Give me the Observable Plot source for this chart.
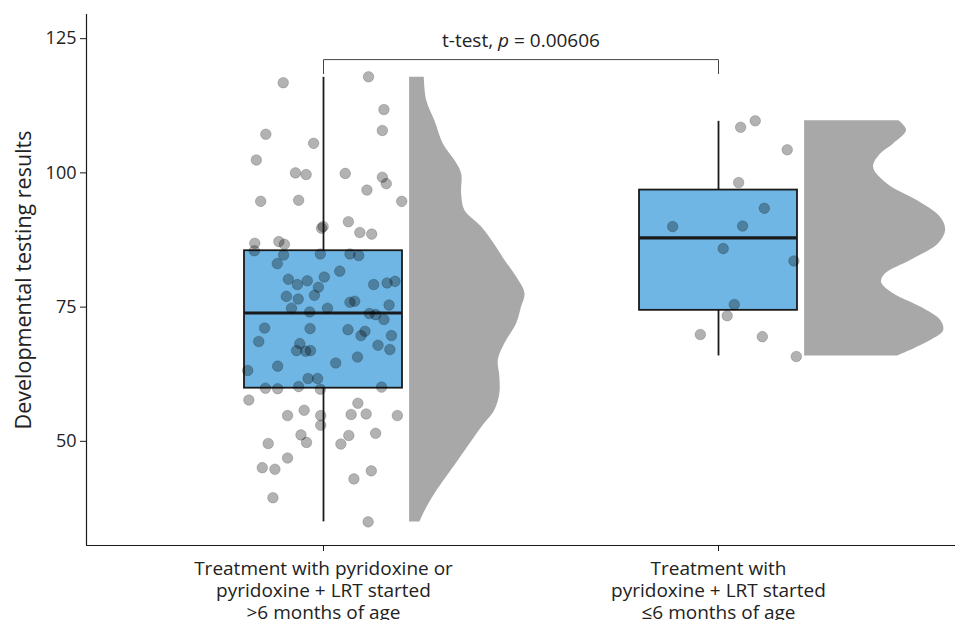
<!DOCTYPE html>
<html>
<head>
<meta charset="utf-8">
<script src="https://cdn.jsdelivr.net/npm/d3@7"></script>
<script src="https://cdn.jsdelivr.net/npm/@observablehq/plot@0.6"></script>
<style>
  html, body { margin: 0; padding: 0; background: #fff; }
  #chart { width: 960px; height: 620px; overflow: hidden; }
</style>
</head>
<body>
<div id="chart"></div>
<script>
// ---- categories / labels ----
const categories = [
  "Treatment with pyridoxine or\npyridoxine + LRT started\n>6 months of age",
  "Treatment with\npyridoxine + LRT started\n≤6 months of age"
];
const yTicks = [50, 75, 100, 125];
const yLabel = "Developmental testing results";
const titleText = "t-test, p = 0.00606";

// ---- group 1 observations (score, horizontal jitter in group units) ----
const scores1 = [116.8,117.9,111.8,107.9,107.2,105.5,102.4,100.0,99.7,99.9,
  99.2,98.0,96.8,94.7,94.9,94.7,89.7,90.0,90.9,88.9,
  88.6,86.9,87.2,86.7,85.5,84.7,84.9,84.9,84.6,83.1,
  81.7,80.2,79.2,79.9,80.6,78.7,79.2,79.5,79.8,77.0,
  76.5,77.2,75.9,76.1,74.8,74.1,74.8,75.4,73.8,73.6,
  72.7,71.1,71.0,70.8,70.5,69.7,69.7,68.6,68.2,66.9,
  66.8,66.9,67.9,67.1,65.7,64.6,64.0,63.2,61.7,61.7,
  59.9,59.8,60.2,59.7,60.1,57.7,54.8,55.8,54.8,53.0,
  57.1,55.0,55.1,54.8,49.6,51.2,49.8,51.1,49.5,51.5,
  46.9,45.1,44.8,44.5,43.0,39.5,35.0];
const jitter1 = [-0.102,0.114,0.153,0.149,-0.146,-0.025,-0.170,-0.071,-0.044,0.055,
  0.149,0.159,0.110,-0.159,-0.063,0.198,-0.005,-0.001,0.063,0.092,
  0.122,-0.174,-0.113,-0.099,-0.175,-0.101,-0.008,0.067,0.089,-0.117,
  0.041,-0.089,-0.066,-0.041,0.002,-0.013,0.127,0.161,0.181,-0.094,
  -0.064,-0.023,0.067,0.079,-0.081,-0.035,0.010,0.166,0.116,0.132,
  0.153,-0.149,-0.034,0.062,0.105,0.095,0.172,-0.164,-0.060,-0.068,
  -0.045,-0.033,0.138,0.168,0.086,0.031,-0.116,-0.192,-0.039,-0.015,
  -0.147,-0.116,-0.063,-0.008,0.147,-0.189,-0.091,-0.049,-0.007,-0.007,
  0.087,0.070,0.108,0.187,-0.140,-0.057,-0.043,0.064,0.044,0.132,
  -0.091,-0.155,-0.123,0.121,0.077,-0.128,0.113];

// ---- group 2 observations ----
const scores2 = [108.5,109.7,104.3,98.2,93.4,90.1,90.0,85.9,83.6,75.5,73.4,69.9,69.5,65.8];
const jitter2 = [0.056,0.093,0.174,0.051,0.116,0.061,-0.116,0.012,0.191,0.040,0.022,-0.046,0.111,0.197];

// ---- box statistics per group ----
const boxMin    = [35.0, 65.9];
const boxQ1     = [59.9, 74.4];
const boxMedian = [73.9, 87.9];
const boxQ3     = [85.5, 96.8];
const boxMax    = [117.8, 109.6];

// ---- half-violin density outlines (value, relative density) ----
const dens1Y = [117.8,113.5,109.7,105.4,102.3,99.8,96.1,93.0,89.9,86.1,83.7,80.6,77.5,75.0,71.9,68.2,65.1,62.0,58.9,55.8,52.6,46.4,40.2,37.0,35.0];
const dens1  = [0.104,0.121,0.179,0.239,0.321,0.369,0.369,0.392,0.511,0.617,0.676,0.759,0.818,0.794,0.759,0.676,0.629,0.640,0.640,0.605,0.511,0.345,0.179,0.109,0.073];
const dens2Y = [109.7,107.9,105.4,103.5,101.0,97.9,94.8,91.7,89.3,86.8,83.7,81.2,79.6,77.5,75.0,72.5,70.6,68.8,65.9];
const dens2  = [0.669,0.723,0.631,0.539,0.489,0.589,0.801,0.965,1.0,0.950,0.752,0.574,0.546,0.631,0.823,0.965,0.986,0.894,0.660];

// ---- build tables ----
const points = [
  ...scores1.map((v, i) => ({g: 1, x: 1 + jitter1[i], y: v})),
  ...scores2.map((v, i) => ({g: 2, x: 2 + jitter2[i], y: v}))
];
const boxes = [0, 1].map(i => ({g: i + 1, min: boxMin[i], q1: boxQ1[i], median: boxMedian[i], q3: boxQ3[i], max: boxMax[i]}));
const violins = [
  ...dens1Y.map((v, i) => ({g: 1, y: v, d: dens1[i]})),
  ...dens2Y.map((v, i) => ({g: 2, y: v, d: dens2[i]}))
];
const bracketTip = 118.5, bracketTop = 121.1, titleY = 123.5;
const bracket = [
  {x: 1, y: bracketTip}, {x: 1, y: bracketTop},
  {x: 2, y: bracketTop}, {x: 2, y: bracketTip}
];

const boxHalf = 0.2, violinOffset = 0.218, violinScale = 0.357;
const ink = "#1a1a1a";

const svg = Plot.plot({
  width: 960,
  height: 620,
  marginLeft: 86,
  marginRight: 5,
  marginTop: 14,
  marginBottom: 75,
  style: {fontFamily: "'Open Sans', sans-serif", fontSize: "18px", color: "#222", background: "#fff"},
  x: {type: "linear", domain: [0.4, 2.6], axis: null},
  y: {domain: [30.6, 129.5], axis: null},
  marks: [
    Plot.areaX(violins, {
      z: "g", y: "y",
      x1: d => d.g + violinOffset,
      x2: d => d.g + violinOffset + d.d * violinScale,
      fill: "#a8a8a8", curve: "catmull-rom"
    }),
    Plot.ruleX(boxes, {x: "g", y1: "q3", y2: "max", stroke: ink, strokeWidth: 1.8}),
    Plot.ruleX(boxes, {x: "g", y1: "min", y2: "q1", stroke: ink, strokeWidth: 1.8}),
    Plot.rect(boxes, {
      x1: d => d.g - boxHalf, x2: d => d.g + boxHalf, y1: "q1", y2: "q3",
      fill: "#6fb6e4", stroke: ink, strokeWidth: 1.8
    }),
    Plot.ruleY(boxes, {y: "median", x1: d => d.g - boxHalf, x2: d => d.g + boxHalf, stroke: ink, strokeWidth: 3.2}),
    Plot.dot(points, {x: "x", y: "y", r: 5.3, fill: "black", fillOpacity: 0.3, stroke: "black", strokeOpacity: 0.18, strokeWidth: 1}),
    Plot.line(bracket, {x: "x", y: "y", stroke: "#444", strokeWidth: 1}),
    Plot.text([titleText], {x: () => 1.5, y: () => titleY, text: d => d, lineAnchor: "bottom", fontSize: 19, fill: "#222"}),
    Plot.ruleX([0.4], {stroke: ink, strokeWidth: 1.2}),
    Plot.ruleY([30.6], {stroke: ink, strokeWidth: 1.2}),
    Plot.axisY({ticks: yTicks, tickSize: 6, tickPadding: 4, fontSize: 18, label: null, stroke: ink, fill: "#222"}),
    Plot.axisX({ticks: [1, 2], tickFormat: d => categories[Math.round(d) - 1], tickSize: 6, tickPadding: 8,
      fontSize: 19, lineHeight: 1.16, label: null, stroke: ink, fill: "#222"}),
    Plot.text([yLabel], {frameAnchor: "left", textAnchor: "middle", dx: -62, rotate: -90, text: d => d, fontSize: 21.5, fill: "#222"})
  ]
});

// italic "p" in the test annotation
svg.querySelectorAll("text").forEach(t => {
  if (t.textContent === titleText) {
    while (t.firstChild) t.removeChild(t.firstChild);
    const ns = "http://www.w3.org/2000/svg";
    const parts = [["t-test, ", false], ["p", true], [" = 0.00606", false]];
    for (const [s, it] of parts) {
      const ts = document.createElementNS(ns, "tspan");
      ts.textContent = s;
      if (it) ts.setAttribute("font-style", "italic");
      t.appendChild(ts);
    }
  }
});

document.getElementById("chart").appendChild(svg);
</script>
</body>
</html>
